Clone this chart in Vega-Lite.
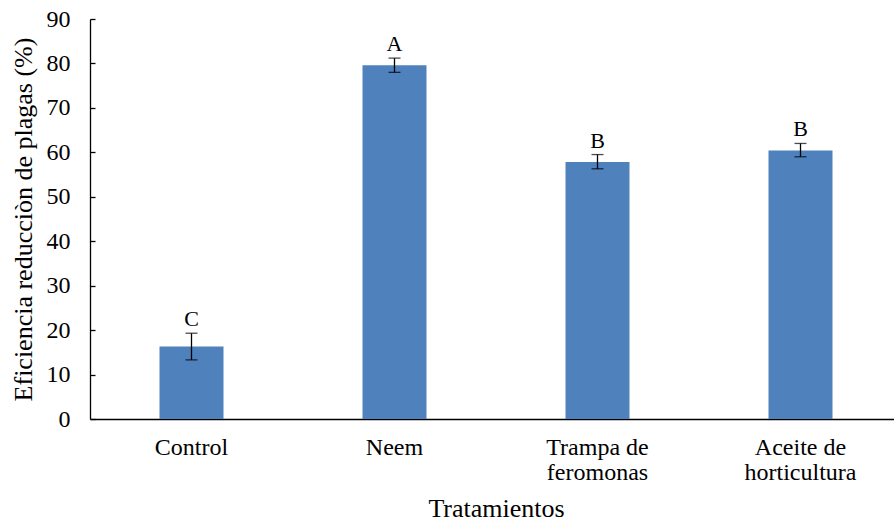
{
  "$schema": "https://vega.github.io/schema/vega-lite/v6.json",
  "width": 812,
  "height": 400,
  "padding": {"left": 10, "top": 7, "right": 0, "bottom": 0},
  "autosize": {"type": "pad"},
  "background": "white",
  "config": {
    "view": {"stroke": null},
    "font": "Liberation Serif",
    "axis": {
      "domainColor": "black",
      "domainWidth": 1.3,
      "tickColor": "black",
      "labelColor": "black",
      "titleColor": "black",
      "labelFont": "Liberation Serif",
      "titleFont": "Liberation Serif",
      "labelFontSize": 24,
      "titleFontSize": 26,
      "titleFontWeight": "normal",
      "grid": false
    }
  },
  "data": {
    "values": [
      {"tratamiento": "Control", "eficiencia": 16.3, "inferior": 13.3, "superior": 19.3, "letra": "C"},
      {"tratamiento": "Neem", "eficiencia": 79.6, "inferior": 78.0, "superior": 81.2, "letra": "A"},
      {"tratamiento": "Trampa de feromonas", "eficiencia": 57.8, "inferior": 56.3, "superior": 59.5, "letra": "B"},
      {"tratamiento": "Aceite de horticultura", "eficiencia": 60.4, "inferior": 59.0, "superior": 62.0, "letra": "B"}
    ]
  },
  "encoding": {
    "x": {
      "field": "tratamiento",
      "type": "nominal",
      "sort": null,
      "scale": {"paddingInner": 0, "paddingOuter": 0},
      "axis": {
        "title": "Tratamientos",
        "labelAngle": 0,
        "ticks": false,
        "labelPadding": 16,
        "labelLineHeight": 25,
        "titlePadding": 11,
        "labelExpr": "datum.label == 'Trampa de feromonas' ? ['Trampa de', 'feromonas'] : datum.label == 'Aceite de horticultura' ? ['Aceite de', 'horticultura'] : datum.label"
      }
    }
  },
  "layer": [
    {
      "mark": {"type": "bar", "color": "#4f81bd", "width": 64},
      "encoding": {
        "y": {
          "field": "eficiencia",
          "type": "quantitative",
          "scale": {"domain": [0, 90]},
          "axis": {
            "title": "Eficiencia reducciòn de plagas (%)",
            "values": [0, 10, 20, 30, 40, 50, 60, 70, 80, 90],
            "tickSize": -5,
            "tickWidth": 1.3,
            "labelPadding": 25,
            "titlePadding": 10
          }
        }
      }
    },
    {
      "mark": {"type": "rule", "color": "black", "strokeWidth": 1.3},
      "encoding": {
        "y": {"field": "inferior", "type": "quantitative"},
        "y2": {"field": "superior"}
      }
    },
    {
      "mark": {"type": "tick", "color": "black", "size": 12, "thickness": 1.3, "orient": "horizontal"},
      "encoding": {"y": {"field": "inferior", "type": "quantitative"}}
    },
    {
      "mark": {"type": "tick", "color": "black", "size": 12, "thickness": 1.3, "orient": "horizontal"},
      "encoding": {"y": {"field": "superior", "type": "quantitative"}}
    },
    {
      "mark": {"type": "text", "baseline": "alphabetic", "dy": -7, "fontSize": 22, "color": "black", "font": "Liberation Serif"},
      "encoding": {
        "y": {"field": "superior", "type": "quantitative"},
        "text": {"field": "letra"}
      }
    }
  ]
}
